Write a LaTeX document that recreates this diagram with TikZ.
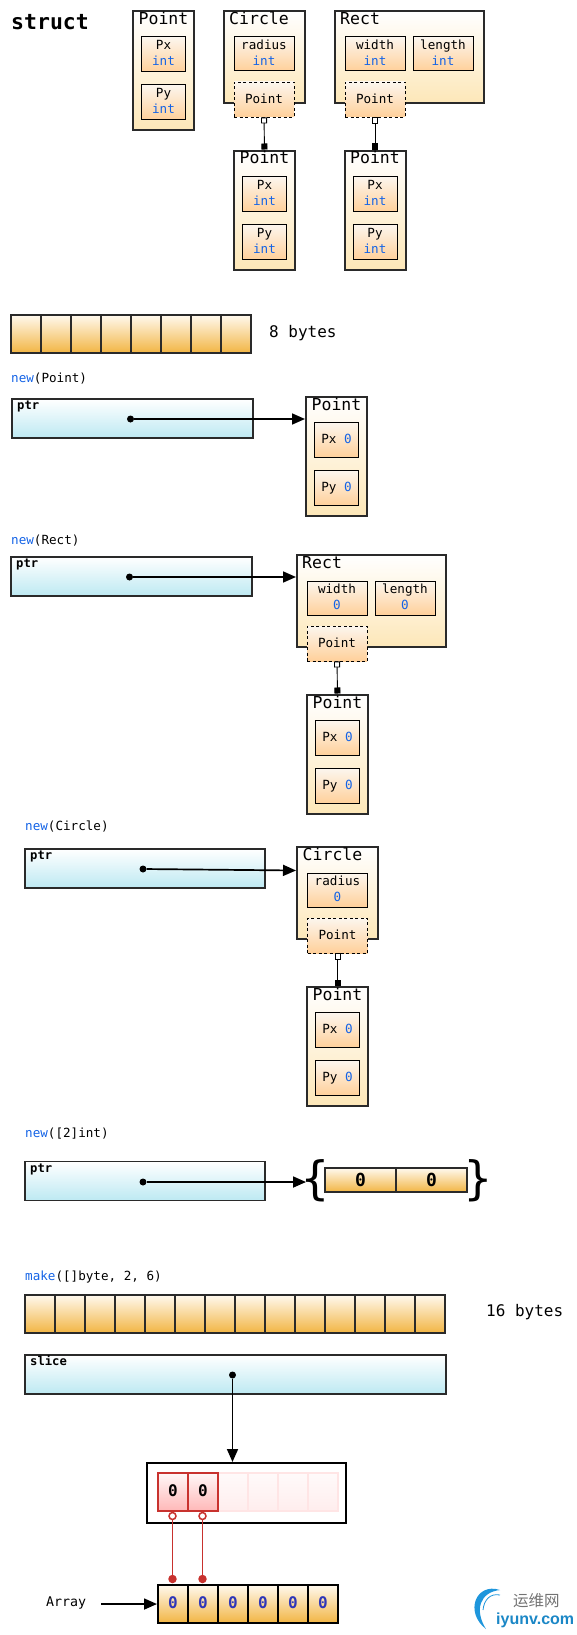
\documentclass[tikz,border=0pt]{standalone}
\usepackage{fontspec}
\setmainfont{DejaVu Sans Mono}
\newfontfamily\cjk{Noto Sans CJK SC}
\newfontfamily\wmfont{Liberation Sans}
\usetikzlibrary{arrows.meta}

\definecolor{kwblue}{HTML}{1463E6}
\definecolor{zeroblue}{HTML}{2F36B8}
\definecolor{edge}{HTML}{2A2A2A}
\definecolor{redline}{HTML}{C8322E}
\definecolor{structend}{HTML}{FDE7B8}
\definecolor{fieldtop}{HTML}{FCF6EE}
\definecolor{fieldend}{HTML}{FFD09A}
\definecolor{bytetop}{HTML}{FFF9EE}
\definecolor{byteend}{HTML}{F2B543}
\definecolor{ptrend}{HTML}{BDE9F2}
\definecolor{logoblue}{HTML}{1E96DC}

\newcommand{\fieldval}[1]{\textcolor{kwblue}{#1}\rule[-2.5pt]{0pt}{1pt}}

\tikzset{
    txt/.style={font=\fontsize{#1}{16}\selectfont, inner sep=0pt, text=black},
    txtb/.style={font=\fontsize{#1}{16}\selectfont\bfseries, inner sep=0pt, text=black},
    structbox/.style={draw=edge, line width=2pt, top color=white, bottom color=structend, inner sep=0pt},
    fieldbox/.style={draw=black, line width=1pt, top color=fieldtop, bottom color=fieldend, minimum height=35pt, inner sep=0pt, align=center, txt=12.6},
    dashbox/.style={fieldbox, line width=0.9pt, dash pattern=on 3pt off 2.5pt, minimum width=60pt},
    bytecell/.style={draw=edge, line width=1.8pt, top color=bytetop, bottom color=byteend, minimum width=30pt, minimum height=38pt, inner sep=0pt},
    ptrbox/.style={draw=edge, line width=1.8pt, top color=white, bottom color=ptrend, minimum height=39pt, inner sep=0pt},
    ptrdot/.style={circle, fill=black, minimum size=7pt, inner sep=0pt},
    ptrline/.style={->, line width=1.7pt},
    stubline/.style={{Square[open, fill=white, length=6pt, width=6pt]}-{Square[length=6pt, width=6pt]}, line width=0.9pt},
    redcell/.style={draw=redline, line width=1.5pt, top color=red!3, bottom color=red!28!white, minimum width=30pt, minimum height=38pt, inner sep=0pt, txtb=16},
    fadecell/.style={draw=red!10, line width=1.5pt, top color=red!2, bottom color=red!7, minimum width=30pt, minimum height=38pt, inner sep=0pt},
}

\begin{document}
\begin{tikzpicture}[x=1pt, y=-1pt, >={Triangle[length=13pt, width=11pt]}]
    \useasboundingbox (0,0) rectangle (576,1635);

    % title
    \node[txtb=21.5, anchor=base west] (title) at (11,29.5) {struct};

    % Point boxes with types
    \foreach \n/\x/\y in {pa/163.5/70.5, pb/264.5/210, pc/375/210} {
        \node[structbox, minimum width=61pt, minimum height=119pt] (\n) at (\x,\y) {};
        \node[txt=16.5, anchor=base] (\n-t) at (\x,\y-46) {Point};
        \node[fieldbox, minimum width=44pt] (\n-x) at (\x,\y-16) {Px\\\fieldval{int}};
        \node[fieldbox, minimum width=44pt] (\n-y) at (\x,\y+32) {Py\\\fieldval{int}};
    }

    % Point boxes with values
    \foreach \n/\x/\y in {pd/336.5/456, pe/337.5/754, pf/337.5/1046} {
        \node[structbox, minimum width=61pt, minimum height=119pt] (\n) at (\x,\y) {};
        \node[txt=16.5, anchor=base] (\n-t) at (\x,\y-46) {Point};
        \node[fieldbox, minimum width=44pt] (\n-x) at (\x,\y-16) {\raisebox{1.5pt}{Px \textcolor{kwblue}{0}}};
        \node[fieldbox, minimum width=44pt] (\n-y) at (\x,\y+32) {\raisebox{1.5pt}{Py \textcolor{kwblue}{0}}};
    }

    % Circle
    \foreach \n/\x/\y/\v/\p in {ca/264/57/int/pb, cb/337.5/893/0/pf} {
        \node[structbox, minimum width=81pt, minimum height=92pt] (\n) at (\x,\y) {};
        \node[txt=16.5, anchor=base west] (\n-t) at (\x-35,\y-32.5) {Circle};
        \node[fieldbox, minimum width=60pt, minimum height=34pt] (\n-r) at (\x,\y-3) {radius\\\fieldval{\v}};
        \node[dashbox] (\n-p) at (\x,\y+42.5) {\raisebox{2pt}{Point}};
        \draw[stubline] (\n-p.south) -- (\p.north);
    }

    % Rect
    \foreach \n/\x/\y/\v/\p in {ra/409.5/57/int/pc, rb/371.5/601/0/pe} {
        \node[structbox, minimum width=149pt, minimum height=92pt] (\n) at (\x,\y) {};
        \node[txt=16.5, anchor=base west] (\n-t) at (\x-69.5,\y-32.5) {Rect};
        \node[fieldbox, minimum width=60pt, minimum height=34pt] (\n-w) at (\x-34.5,\y-3) {width\\\fieldval{\v}};
        \node[fieldbox, minimum width=60pt, minimum height=34pt] (\n-l) at (\x+33.5,\y-3) {length\\\fieldval{\v}};
        \node[dashbox] (\n-p) at (\x-34.5,\y+42.5) {\raisebox{2pt}{Point}};
        \draw[stubline] (\n-p.south) -- (\p.north);
    }

    % 8 bytes
    \foreach \i in {0,...,7} {
        \node[bytecell] (b\i) at ({26+30*\i},334) {};
    }
    \node[txt=16, anchor=base west] (blabel) at (269,337) {8 bytes};

    % new(Point)
    \node[txt=12.6, anchor=base west] (newa) at (11,382) {\textcolor{kwblue}{new}(Point)};
    \node[ptrbox, minimum width=241pt] (ptra) at (132.5,418.5) {};
    \node[txtb=12.2, anchor=base west] (ptra-t) at (17,409) {ptr};
    \node[ptrdot] (dota) at (130.5,419) {};
    \draw[ptrline] (dota) -- (dota -| pd.west);

    % new(Rect)
    \node[txt=12.6, anchor=base west] (newb) at (11,544) {\textcolor{kwblue}{new}(Rect)};
    \node[ptrbox, minimum width=241pt] (ptrb) at (131.5,576.5) {};
    \node[txtb=12.2, anchor=base west] (ptrb-t) at (16,567) {ptr};
    \node[ptrdot] (dotb) at (129.5,577) {};
    \draw[ptrline] (dotb) -- (dotb -| rb.west);

    % new(Circle)
    \node[txt=12.6, anchor=base west] (newc) at (25,830) {\textcolor{kwblue}{new}(Circle)};
    \node[ptrbox, minimum width=240pt] (ptrc) at (145,868.5) {};
    \node[txtb=12.2, anchor=base west] (ptrc-t) at (30,859) {ptr};
    \node[ptrdot] (dotc) at (143,869) {};
    \draw[ptrline] (dotc) -- (cb.west |- 0,870.5);

    % new([2]int)
    \node[txt=12.6, anchor=base west] (newd) at (25,1137) {\textcolor{kwblue}{new}([2]int)};
    \node[ptrbox, minimum width=240pt] (ptrd) at (145,1181) {};
    \node[txtb=12.2, anchor=base west] (ptrd-t) at (30,1172) {ptr};
    \node[ptrdot] (dotd) at (143,1182) {};
    \node[bytecell, minimum width=71pt, minimum height=24pt, txtb=18] (arra) at (360.5,1180) {0};
    \node[bytecell, minimum width=71pt, minimum height=24pt, txtb=18] (arrb) at (431.5,1180) {0};
    \node[txt=46, anchor=center] (lbrace) at (315,1181) {\{};
    \node[txt=46, anchor=center] (rbrace) at (478,1181) {\}};
    \coordinate (tipd) at (306,1182);
    \draw[ptrline] (dotd) -- (tipd);

    % make
    \node[txt=12.6, anchor=base west] (newe) at (25,1280) {\textcolor{kwblue}{make}([]byte, 2, 6)};
    \foreach \i in {0,...,13} {
        \node[bytecell] (c\i) at ({40+30*\i},1314) {};
    }
    \node[txt=16, anchor=base west] (clabel) at (486,1316) {16 bytes};
    \node[ptrbox, minimum width=421pt] (slice) at (235.5,1374.5) {};
    \node[txtb=12.2, anchor=base west] (slice-t) at (30,1365) {slice};
    \node[ptrdot] (dote) at (232.5,1375) {};

    % slice view
    \node[draw=black, line width=2pt, fill=white, minimum width=199pt, minimum height=60pt, inner sep=0pt] (frame) at (246.5,1493) {};
    \draw[ptrline] (dote) -- (dote |- frame.north);
    \foreach \i in {2,...,5} {
        \node[fadecell] (v\i) at ({173+30*\i},1492) {};
    }
    \node[redcell] (va) at (173,1492) {\raisebox{3pt}{0}};
    \node[redcell] (vb) at (203,1492) {\raisebox{3pt}{0}};

    % Array
    \node[txt=13.3, anchor=base west] (alabel) at (46,1606) {Array};
    \foreach \i in {0,...,5} {
        \node[bytecell, draw=black, line width=2pt, txtb=16, text=zeroblue] (z\i) at ({173+30*\i},1604) {\raisebox{3pt}{0}};
    }
    \coordinate (astart) at (101,1604);
    \draw[ptrline] (astart) -- (z0.west);

    % red links
    \foreach \n/\x in {a/172.5, b/202.5} {
        \node[circle, draw=redline, fill=white, line width=1.5pt, minimum size=7pt, inner sep=0pt] (ro\n) at (\x,1516) {};
        \node[circle, fill=redline, minimum size=8.5pt, inner sep=0pt] (rf\n) at (\x,1579) {};
        \draw[redline, line width=1.9pt] (ro\n) -- (rf\n);
    }

    % logo
    \fill[logoblue] (500,1590) .. controls (476,1582) and (464,1612) .. (486,1629) .. controls (474,1610) and (480,1592) .. (500,1590);
    \draw[logoblue, line width=0.8pt] (500,1595) .. controls (490,1593) and (484,1600) .. (483,1610);
    \node[txt=15, font=\cjk\fontsize{15.5}{16}\selectfont, text=black!55, anchor=base west] (wma) at (513,1606) {运维网};
    \node[txt=15, font=\wmfont\fontsize{16}{16}\selectfont\bfseries, text=logoblue!90!black, anchor=base west] (wmb) at (496,1624) {iyunv.com};
\end{tikzpicture}
\end{document}
